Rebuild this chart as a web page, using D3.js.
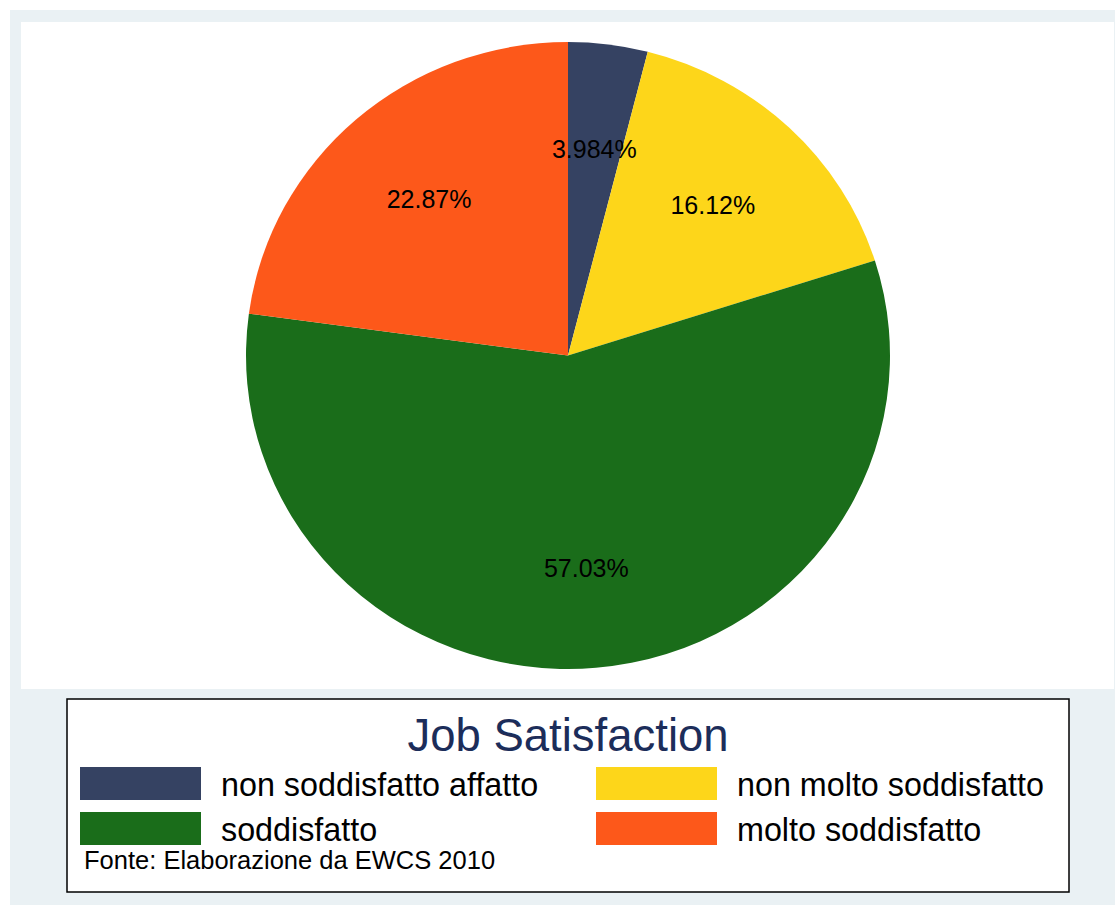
<!DOCTYPE html>
<html>
<head>
<meta charset="utf-8">
<script src="https://cdn.jsdelivr.net/npm/d3@7"></script>
<style>
  html, body { margin: 0; padding: 0; background: #ffffff; }
  svg { display: block; }
</style>
</head>
<body>
<div id="chart"></div>
<script>
// Job satisfaction shares (percent), clockwise from 12 o'clock
const categories = ["non soddisfatto affatto", "non molto soddisfatto", "soddisfatto", "molto soddisfatto"];
const shares = [3.984, 16.12, 57.03, 22.87];
const sliceColors = ["#354262", "#fdd61a", "#1a6d1a", "#fd581a"];
const legendTitle = "Job Satisfaction";
const sourceNote = "Fonte: Elaborazione da EWCS 2010";

const W = 1115, H = 905;
const svg = d3.select("#chart").append("svg")
  .attr("width", W).attr("height", H)
  .style("font-family", "'Liberation Sans', Arial, Helvetica, sans-serif");

// graph region and plot region backgrounds
svg.append("rect").attr("x", 10).attr("y", 10).attr("width", W - 10).attr("height", H - 10)
  .attr("fill", "#eaf1f4");
svg.append("rect").attr("x", 21).attr("y", 22).attr("width", 1093).attr("height", 667)
  .attr("fill", "#ffffff");

// pie (slightly wider than tall)
const cx = 568, cy = 355.5, rx = 322, ry = 313.5;
const pie = d3.pie().sort(null).value(d => d.value).startAngle(0).endAngle(2 * Math.PI);
const data = categories.map((c, i) => ({ name: c, value: shares[i], color: sliceColors[i] }));
const arcs = pie(data);
const arc = d3.arc().innerRadius(0).outerRadius(ry);

const pieG = svg.append("g").attr("transform", `translate(${cx},${cy}) scale(${rx / ry},1)`);
pieG.selectAll("path").data(arcs).join("path")
  .attr("d", arc)
  .attr("fill", d => d.data.color);

const fmt = d3.format(".4r");
const labelR = 211;
svg.append("g").selectAll("text").data(arcs).join("text")
  .attr("x", d => cx + labelR * Math.sin((d.startAngle + d.endAngle) / 2))
  .attr("y", d => cy - labelR * Math.cos((d.startAngle + d.endAngle) / 2))
  .attr("dy", "0.46em")
  .attr("text-anchor", "middle")
  .attr("font-size", 25)
  .attr("fill", "#000")
  .text(d => fmt(d.data.value) + "%");

// legend box
const lg = svg.append("g");
lg.append("rect").attr("x", 67).attr("y", 699).attr("width", 1002).attr("height", 193)
  .attr("fill", "#ffffff").attr("stroke", "#000").attr("stroke-width", 1.5);
lg.append("text").attr("x", 568).attr("y", 751).attr("text-anchor", "middle")
  .attr("font-size", 45.5).attr("fill", "#1c2d5a").text(legendTitle);

const colX = [80, 596];
const rowY = [767, 812];
const items = lg.selectAll("g.item").data(data).join("g").attr("class", "item")
  .attr("transform", (d, i) => `translate(${colX[i % 2]},${rowY[Math.floor(i / 2)]})`);
items.append("rect").attr("width", 121).attr("height", 33).attr("fill", d => d.color);
items.append("text").attr("x", 141).attr("y", 29).attr("font-size", 32.3).attr("fill", "#000")
  .text(d => d.name);

lg.append("text").attr("x", 84).attr("y", 869).attr("font-size", 25.5).attr("fill", "#000")
  .text(sourceNote);
</script>
</body>
</html>
